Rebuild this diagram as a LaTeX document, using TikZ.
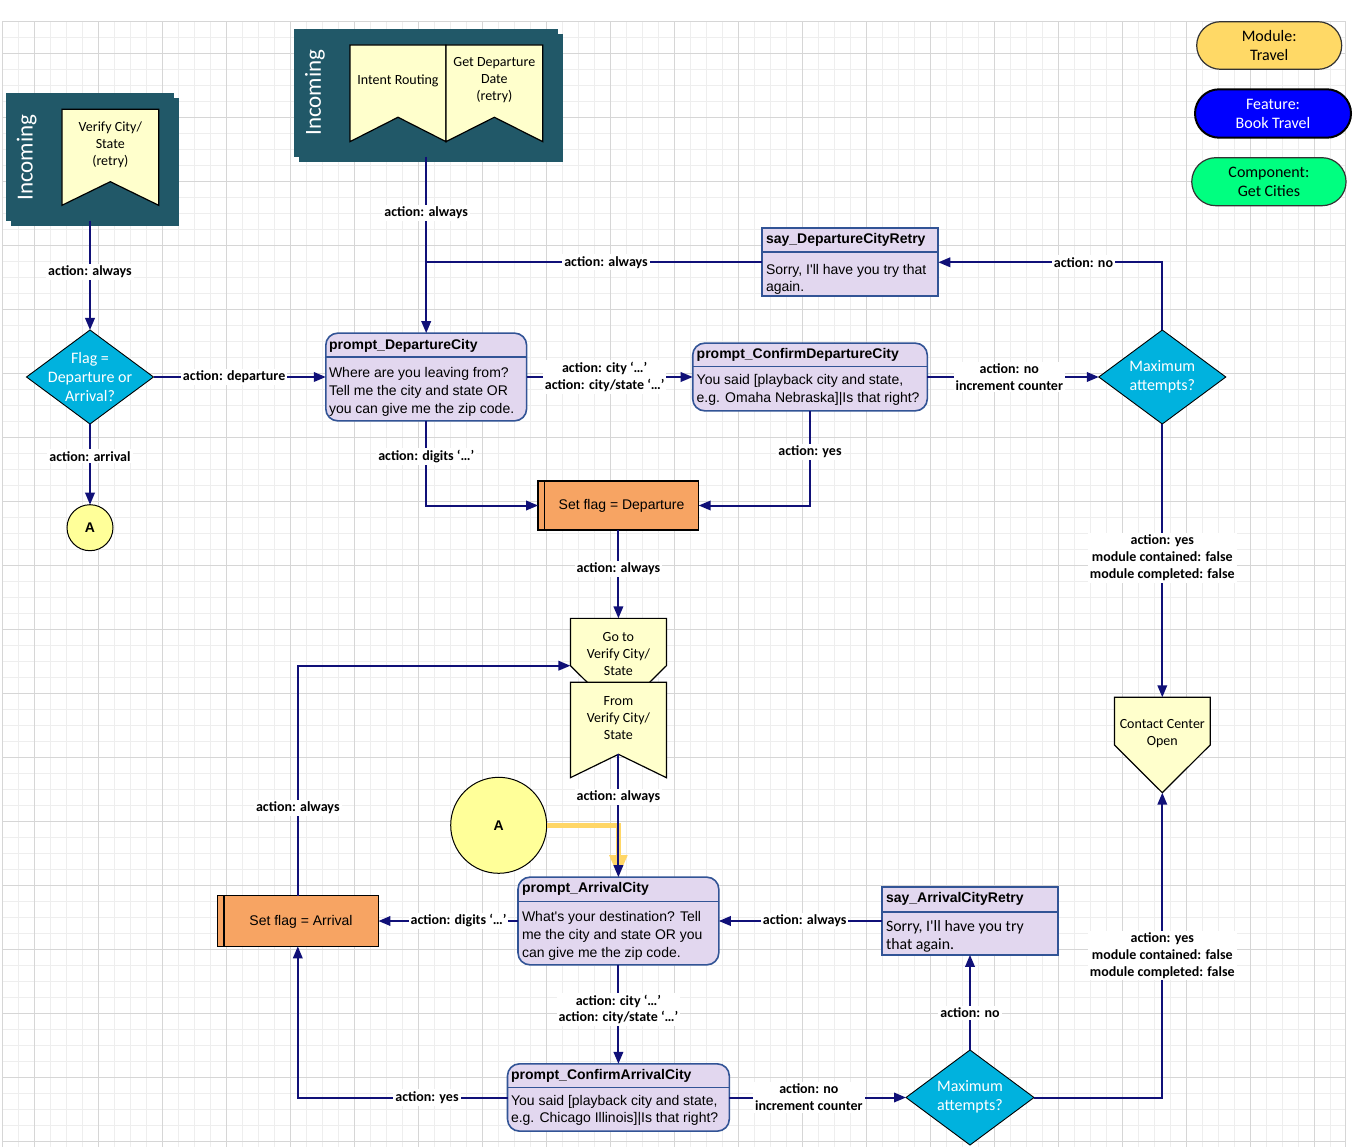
\documentclass[tikz,border=0pt]{standalone}
\usepackage{fontspec}
\setmainfont{Liberation Sans}
\newfontfamily\calfont{Carlito}
\usetikzlibrary{shapes.geometric,shapes.misc,arrows.meta,calc}

\definecolor{flowcol}{RGB}{16,16,120}
\definecolor{gridminor}{RGB}{238,238,238}
\definecolor{gridmajor}{RGB}{214,214,214}
\definecolor{incol}{RGB}{33,88,104}
\definecolor{notefill}{RGB}{255,255,204}
\definecolor{lav}{RGB}{226,215,239}
\definecolor{lavline}{RGB}{50,84,150}
\definecolor{flagorange}{RGB}{247,164,99}
\definecolor{decision}{RGB}{0,178,222}
\definecolor{connfill}{RGB}{255,255,153}
\definecolor{jumpline}{RGB}{255,214,102}
\definecolor{modulecol}{RGB}{255,217,102}
\definecolor{featurecol}{RGB}{0,0,255}
\definecolor{componentcol}{RGB}{0,255,128}

\begin{document}
\begin{tikzpicture}[x=1pt,y=-1pt,
  every node/.style={inner sep=0pt,outer sep=0pt},
  ctext/.style={font=\calfont\fontsize{14}{17}\selectfont,align=center},
  dtext/.style={font=\calfont\fontsize{16}{19}\selectfont,text=white,align=center},
  incoming/.style={font=\calfont\fontsize{23}{27}\selectfont,text=white,rotate=90},
  ttl/.style={font=\bfseries\fontsize{14}{17}\selectfont,anchor=west},
  body/.style={font=\fontsize{14}{17.6}\selectfont,anchor=west,align=left},
  cbody/.style={font=\calfont\fontsize{15.8}{18.4}\selectfont,anchor=west,align=left},
  lbl/.style={font=\calfont\bfseries\fontsize{14}{16.8}\selectfont,fill=white,inner sep=2pt,align=center},
  flow/.style={draw=flowcol,line width=2pt,-{Triangle[length=12pt,width=9.5pt]}},
  flowplain/.style={draw=flowcol,line width=2pt},
  jump/.style={draw=jumpline,line width=5pt,-{Triangle[length=22pt,width=17pt]}},
  note/.style={fill=notefill,draw=black,line width=1.2pt,line join=miter},
  promptbox/.style={rectangle,rounded corners=12pt,fill=lav,draw=lavline,line width=1.6pt},
  saybox/.style={rectangle,fill=lav,draw=lavline,line width=2pt},
  divider/.style={draw=lavline,line width=1.6pt},
  flagbox/.style={rectangle,fill=flagorange,draw=black,line width=1.3pt},
  flagtext/.style={font=\fontsize{14}{17}\selectfont},
  decide/.style={diamond,fill=decision,draw=black,line width=0.9pt},
  onpage/.style={circle,fill=connfill,draw=black,line width=1pt,font=\bfseries\fontsize{14}{17}\selectfont},
  pill/.style={rounded rectangle,draw=black!80,line width=1.2pt,font=\calfont\fontsize{16}{19}\selectfont,align=center},
  gridthin/.style={draw=gridminor,line width=0.8pt},
  gridthick/.style={draw=gridmajor,line width=0.8pt},
]
\useasboundingbox (0,0) rectangle (1363,1147);
\fill[white] (0,0) rectangle (1363,1147);

% drawing sheet grid
\begin{scope}
  \clip (2.7,21.3) rectangle (1345.7,1147);
  \foreach \k in {0,...,84} \draw[gridthin] ({2.7+16*\k},21.3) -- ({2.7+16*\k},1147);
  \foreach \k in {0,...,70} \draw[gridthin] (2.7,{21.3+16*\k}) -- (1345.7,{21.3+16*\k});
  \foreach \k in {0,...,20} \draw[gridthick] ({34.3+64*\k},21.3) -- ({34.3+64*\k},1147);
  \foreach \k in {0,...,17} \draw[gridthick] (2.7,{53.3+64*\k}) -- (1345.7,{53.3+64*\k});
\end{scope}
\draw[gridthick,line width=1pt] (2.7,1147) -- (2.7,21.3) -- (1345.7,21.3) -- (1345.7,1147);

% incoming containers
\node[minimum width=168pt,minimum height=128pt] (inL) at (90,156.7) {};
\fill[incol] ($(inL.north west)+(5,5)$) rectangle ($(inL.south east)+(5,5)$);
\fill[incol] (inL.north west) rectangle (inL.south east);
\node[incoming] (inL-t) at (26.7,157.5) {Incoming};

\node[minimum width=264.3pt,minimum height=127.4pt] (inT) at (426.2,93) {};
\fill[incol] ($(inT.north west)+(5,5)$) rectangle ($(inT.south east)+(5,5)$);
\fill[incol] (inT.north west) rectangle (inT.south east);
\node[incoming] (inT-t) at (315,92.5) {Incoming};

% entry banners
\node[minimum width=96.7pt,minimum height=96pt] (vcs) at (110.3,157.3) {};
\draw[note] (vcs.north west) -- (vcs.north east) -- (vcs.south east) -- ([yshift=23.6pt]vcs.south) -- (vcs.south west) -- cycle;
\node[ctext] (vcs-t) at (110.3,144.5) {Verify City/\\State\\(retry)};

\node[minimum width=96pt,minimum height=96.7pt] (ir) at (398,93.3) {};
\draw[note] (ir.north west) -- (ir.north east) -- (ir.south east) -- ([yshift=24.4pt]ir.south) -- (ir.south west) -- cycle;
\node[ctext] (ir-t) at (398,80.5) {Intent Routing};

\node[minimum width=96.7pt,minimum height=96.7pt] (gdd) at (494.35,93.3) {};
\draw[note] (gdd.north west) -- (gdd.north east) -- (gdd.south east) -- ([yshift=24.4pt]gdd.south) -- (gdd.south west) -- cycle;
\node[ctext] (gdd-t) at (494.35,80.5) {Get Departure\\Date\\(retry)};

% legend
\node[pill,fill=modulecol,minimum width=145pt,minimum height=47.6pt] (lgm) at (1269.2,45.5) {Module:\\Travel};
\node[pill,fill=featurecol,text=white,draw=black,line width=2pt,minimum width=156pt,minimum height=48.4pt] (lgf) at (1273,113.5) {Feature:\\Book Travel};
\node[pill,fill=componentcol,minimum width=154.3pt,minimum height=48pt] (lgc) at (1268.9,181.7) {Component:\\Get Cities};

% decisions
\node[decide,minimum width=127pt,minimum height=94pt] (flagd) at (90,377) {};
\node[dtext] (flagd-t) at (90,377.5) {Flag =\\Departure or\\Arrival?};
\node[decide,minimum width=127pt,minimum height=94pt] (maxd) at (1162.3,377) {};
\node[dtext] (maxd-t) at (1162.3,376.5) {Maximum\\attempts?};
\node[decide,minimum width=128pt,minimum height=95pt] (maxa) at (970,1097.5) {};
\node[dtext] (maxa-t) at (970,1096.7) {Maximum\\attempts?};

% on-page connectors
\node[onpage,minimum size=46pt] (ca1) at (90,527.7) {A};
\node[onpage,minimum size=96pt] (ca2) at (498.7,825.3) {A};

% departure prompts
\node[promptbox,minimum width=200.8pt,minimum height=87.7pt] (pdc) at (426.2,377) {};
\draw[divider] ($(pdc.north west)+(0,24)$) -- ($(pdc.north east)+(0,24)$);
\node[ttl] (pdc-t) at (329,345.5) {prompt\_DepartureCity};
\node[body] (pdc-b) at (329,391.8) {Where are you leaving from?\\Tell me the city and state OR\\you can give me the zip code.};

\node[promptbox,minimum width=234.6pt,minimum height=67.7pt] (pcd) at (810,377) {};
\draw[divider] ($(pcd.north west)+(0,23.5)$) -- ($(pcd.north east)+(0,23.5)$);
\node[ttl] (pcd-t) at (696.7,355) {prompt\_ConfirmDepartureCity};
\node[body] (pcd-b) at (696.7,390.2) {You said [playback city and state,\\e.g. Omaha Nebraska]|Is that right?};

\node[saybox,minimum width=176.6pt,minimum height=67.7pt] (sdr) at (850,262.3) {};
\draw[divider,line width=2pt] ($(sdr.north west)+(0,24)$) -- ($(sdr.north east)+(0,24)$);
\node[ttl] (sdr-t) at (766,240.3) {say\_DepartureCityRetry};
\node[body] (sdr-b) at (766,279.5) {Sorry, I\textquotesingle ll have you try that\\again.};

\node[flagbox,minimum width=160.6pt,minimum height=49pt] (sfd) at (618.4,505.5) {};
\draw[black,line width=1.3pt] ($(sfd.north west)+(6.6,0)$) -- ($(sfd.south west)+(6.6,0)$);
\node[flagtext] (sfd-t) at (621.5,506) {Set flag = Departure};

% off-page references
\node[minimum width=96pt,minimum height=94.7pt] (gto) at (618.4,665.7) {};
\draw[note] (gto.north west) -- (gto.north east) -- (gto.east) -- (gto.south) -- (gto.west) -- cycle;
\node[ctext] (gto-t) at (618.4,653.8) {Go to\\Verify City/\\State};

\node[minimum width=96pt,minimum height=95.4pt] (frm) at (618.4,730) {};
\draw[note] (frm.north west) -- (frm.north east) -- (frm.south east) -- ([yshift=23.4pt]frm.south) -- (frm.south west) -- cycle;
\node[ctext] (frm-t) at (618.4,718.3) {From\\Verify City/\\State};
\coordinate (frm-notch) at ([yshift=23.4pt]frm.south);

\node[minimum width=95.7pt,minimum height=95.4pt] (ccr) at (1162.3,745) {};
\draw[note] (ccr.north west) -- (ccr.north east) -- (ccr.east) -- (ccr.south) -- (ccr.west) -- cycle;
\node[ctext] (ccr-t) at (1162.3,733.5) {Contact Center\\Open};

% arrival prompts
\node[promptbox,minimum width=200.8pt,minimum height=87.7pt] (pac) at (618.4,921) {};
\draw[divider] ($(pac.north west)+(0,24.4)$) -- ($(pac.north east)+(0,24.4)$);
\node[ttl] (pac-t) at (522,889) {prompt\_ArrivalCity};
\node[body] (pac-b) at (522,935.8) {What\textquotesingle s your destination? Tell\\me the city and state OR you\\can give me the zip code.};

\node[promptbox,minimum width=221.8pt,minimum height=67.3pt] (pca) at (618.4,1097.5) {};
\draw[divider] ($(pca.north west)+(0,23.8)$) -- ($(pca.north east)+(0,23.8)$);
\node[ttl] (pca-t) at (511,1075.5) {prompt\_ConfirmArrivalCity};
\node[body] (pca-b) at (511,1110.5) {You said [playback city and state,\\e.g. Chicago Illinois]|Is that right?};

\node[saybox,minimum width=176.7pt,minimum height=67.7pt] (sar) at (970,921) {};
\draw[divider,line width=2pt] ($(sar.north west)+(0,24.5)$) -- ($(sar.north east)+(0,24.5)$);
\node[ttl] (sar-t) at (886,899.2) {say\_ArrivalCityRetry};
\node[cbody] (sar-b) at (886,936.5) {Sorry, I\textquotesingle ll have you try\\that again.};

\node[flagbox,minimum width=161.2pt,minimum height=50.7pt] (sfa) at (297.8,921) {};
\draw[black,line width=1.3pt] ($(sfa.north west)+(6.9,0)$) -- ($(sfa.south west)+(6.9,0)$);
\node[flagtext] (sfa-t) at (301,921.5) {Set flag = Arrival};

% connectors
\draw[flow] (inL.south) -- (flagd.north) node[lbl,pos=0.47] {action: always};
\draw[flow] (flagd.east) -- (pdc.west) node[lbl,pos=0.468] {action: departure};
\draw[flow] (flagd.south) -- (ca1.north) node[lbl,pos=0.40] {action: arrival};
\draw[flow] (inT.south) -- (pdc.north) node[lbl,pos=0.32] {action: always};
\draw[flowplain] (sdr.west) -- (sdr.west -| inT.south) node[lbl,pos=0.464] {action: always};
\draw[flow] (pdc.east) -- (pcd.west) node[lbl,pos=0.47] {action: city ‘…’\\action: city/state ‘…’};
\draw[flow] (pdc.south) |- (sfd.west) node[lbl,pos=0.21] {action: digits ‘…’};
\draw[flow] (pcd.south) |- (sfd.east) node[lbl,pos=0.217] {action: yes};
\draw[flow] (pcd.east) -- (maxd.west) node[lbl,pos=0.478] {action: no\\increment counter};
\draw[flow] (maxd.north) |- (sdr.east) node[lbl,pos=0.676] {action: no};
\draw[flow] (maxd.south) -- (ccr.north) node[lbl,pos=0.49] {action: yes\\module contained: false\\module completed: false};
\draw[flow] (sfd.south) -- (gto.north) node[lbl,pos=0.44] {action: always};
\draw[flow] (sfa.north) |- (gto.west) node[lbl,pos=0.191] {action: always};
\draw[jump] (ca2.east) -| (pac.north);
\draw[flow] (frm-notch) -- (pac.north) node[lbl,pos=0.345] {action: always};
\draw[flow] (pac.west) -- (sfa.east) node[lbl,pos=0.426] {action: digits ‘…’};
\draw[flow] (sar.west) -- (pac.east) node[lbl,pos=0.473] {action: always};
\draw[flow] (pac.south) -- (pca.north) node[lbl,pos=0.45] {action: city ‘…’\\action: city/state ‘…’};
\draw[flow] (pca.west) -| (sfa.south) node[lbl,pos=0.192] {action: yes};
\draw[flow] (pca.east) -- (maxa.west) node[lbl,pos=0.45] {action: no\\increment counter};
\draw[flow] (maxa.north) -- (sar.south) node[lbl,pos=0.39] {action: no};
\draw[flow] (maxa.east) -| (ccr.south) node[lbl,pos=0.733] {action: yes\\module contained: false\\module completed: false};
\end{tikzpicture}
\end{document}
